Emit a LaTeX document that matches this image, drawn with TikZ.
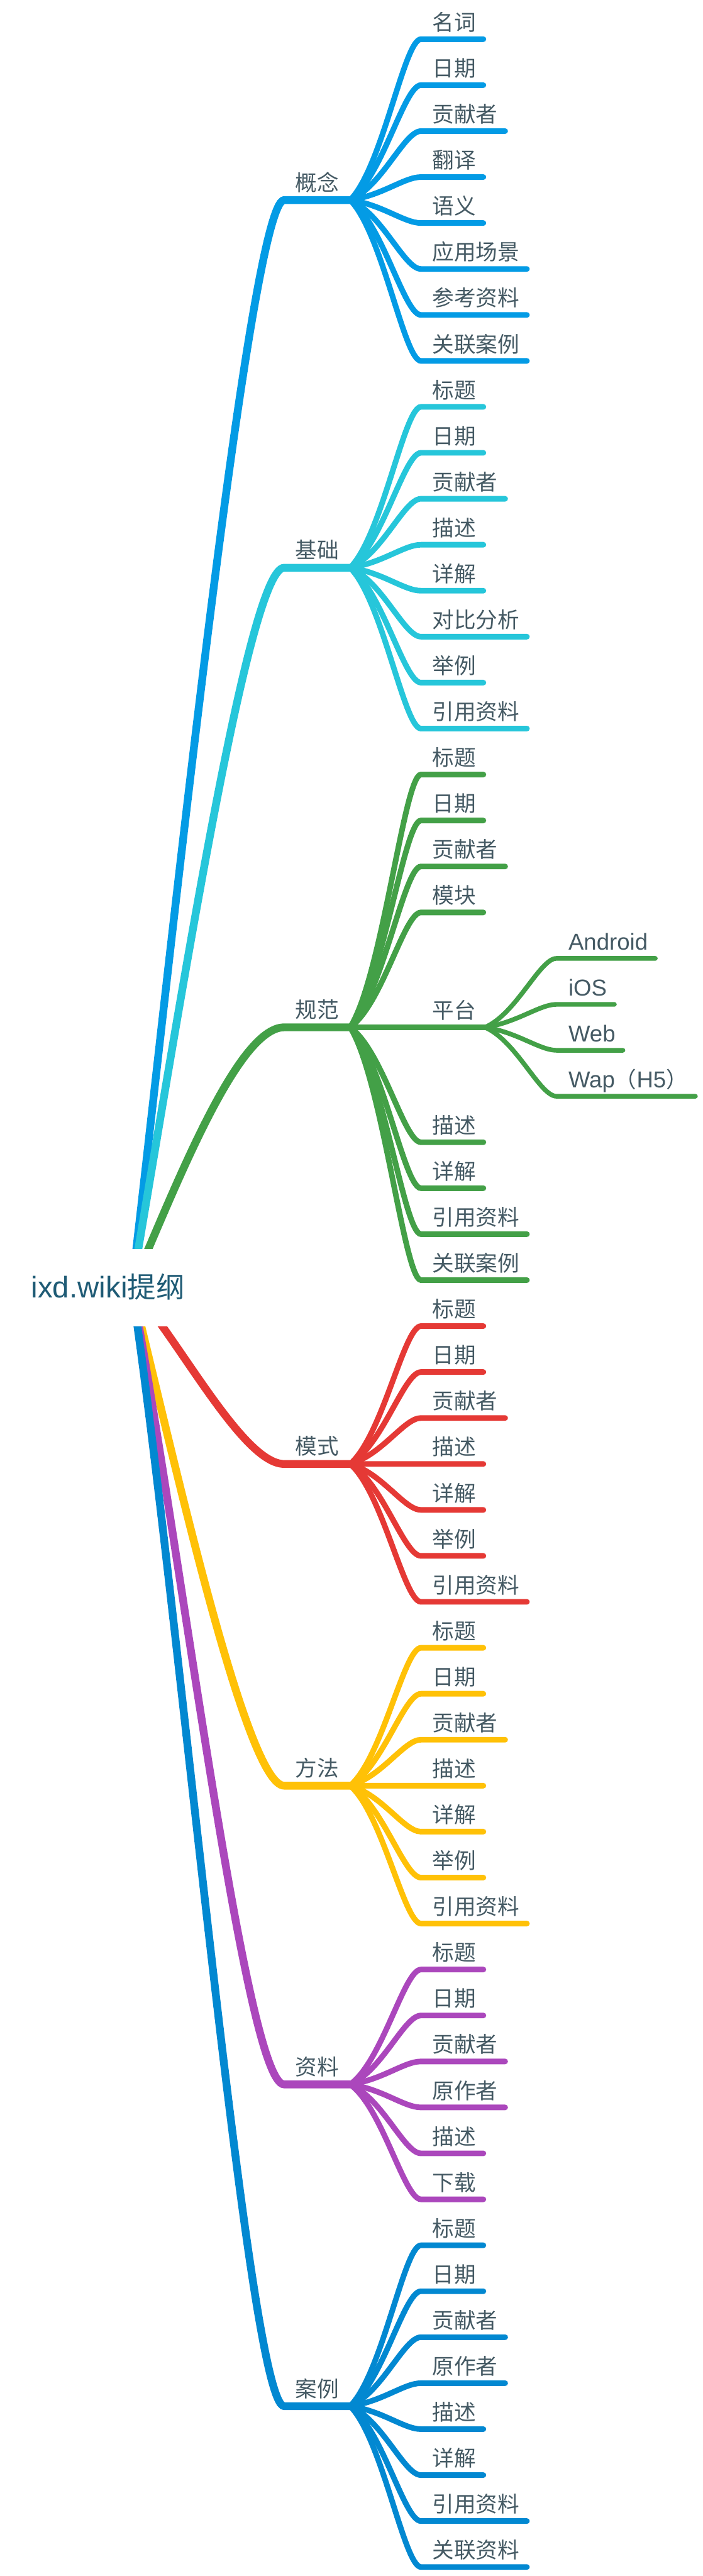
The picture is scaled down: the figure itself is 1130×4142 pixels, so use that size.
\documentclass[tikz,border=0pt]{standalone}
\usepackage{fontspec}
\setmainfont{Liberation Sans}
\newfontfamily\cjk{Noto Sans CJK SC}
\usetikzlibrary{calc}
\definecolor{cA}{HTML}{039BE5}
\definecolor{cB}{HTML}{26C6DA}
\definecolor{cC}{HTML}{43A047}
\definecolor{cD}{HTML}{E53935}
\definecolor{cE}{HTML}{FFC107}
\definecolor{cF}{HTML}{AB47BC}
\definecolor{cG}{HTML}{0288D1}
\definecolor{txt}{HTML}{455A64}
\definecolor{roottxt}{HTML}{1F5B75}
\tikzset{
  leaftext/.style={anchor=base west, inner sep=0pt, text=txt, font=\cjk\fontsize{35}{40}\selectfont},
  lattext/.style={anchor=base west, inner sep=0pt, text=txt, font=\fontsize{37}{42}\selectfont},
  branchtext/.style={anchor=base, inner sep=0pt, text=txt, font=\cjk\fontsize{35}{40}\selectfont},
  roottext/.style={anchor=base west, inner sep=0pt, text=roottxt},
  rootbox/.style={fill=white, draw=none, minimum width=310pt, minimum height=125pt, inner sep=0pt},
  mainline/.style={line width=12.5pt, line cap=round},
  leafline/.style={line width=9pt, line cap=round},
  platline/.style={line width=10pt, line cap=round},
  subline/.style={line width=7.5pt, line cap=round},
}
% leaf: #1 name, #2 parent coordinate, #3 row, #4 text, #5 colour
\newcommand\lf[5]{%
  \pgfmathsetmacro\yy{63+73.9*#3}%
  \node[leaftext] (#1) at (695,\yy-14) {#4};
  \coordinate (#1r) at ([xshift=12pt]#1.east);
  \draw[leafline,draw=#5] (#2) .. controls ($(#2)!0.2!(677,\yy)+(29,0)$) and (650,\yy) .. (677,\yy) -- (#1r |- 0,\yy);
}
% sub leaf of the platform node
\newcommand\slf[3]{%
  \pgfmathsetmacro\yy{63+73.9*#2}%
  \node[lattext] (#1) at (914,\yy-14) {#3};
  \coordinate (#1r) at ([xshift=12pt]#1.east);
  \draw[subline,draw=cC] (PF) .. controls ($(PF)!0.2!(895,\yy)+(28,0)$) and (868,\yy) .. (895,\yy) -- (#1r |- 0,\yy);
}
% main branch: #1 name, #2 row centre, #3 text, #4 colour, #5 P1x, #6 P1y, #7 P2x
\newcommand\br[7]{%
  \pgfmathsetmacro\yb{63+73.9*#2}%
  \coordinate (#1) at (563,\yb);
  \draw[mainline,draw=#4] (RC) .. controls (#5,#6) and (#7,\yb) .. (457,\yb) -- (#1);
  \node[branchtext] (#1t) at (510,\yb-15) {#3};
}
\begin{document}
\begin{tikzpicture}[x=1pt,y=-1pt]
\path[fill=white,use as bounding box] (0,0) rectangle (1130,4142);
\coordinate (RC) at (212,2070);

\br{B1}{3.5}{概念}{cA}{262}{1650}{400}
\br{B2}{11.5}{基础}{cB}{292}{1600}{400}
\br{B3}{21.5}{规范}{cC}{278}{1920}{380}
\br{B4}{31}{模式}{cD}{286}{2150}{390}
\br{B5}{38}{方法}{cE}{274}{2320}{395}
\br{B6}{44.5}{资料}{cF}{288}{2470}{395}
\br{B7}{51.5}{案例}{cG}{287}{2570}{400}

% 概念
\lf{A0}{B1}{0}{名词}{cA}
\lf{A1}{B1}{1}{日期}{cA}
\lf{A2}{B1}{2}{贡献者}{cA}
\lf{A3}{B1}{3}{翻译}{cA}
\lf{A4}{B1}{4}{语义}{cA}
\lf{A5}{B1}{5}{应用场景}{cA}
\lf{A6}{B1}{6}{参考资料}{cA}
\lf{A7}{B1}{7}{关联案例}{cA}
% 基础
\lf{C0}{B2}{8}{标题}{cB}
\lf{C1}{B2}{9}{日期}{cB}
\lf{C2}{B2}{10}{贡献者}{cB}
\lf{C3}{B2}{11}{描述}{cB}
\lf{C4}{B2}{12}{详解}{cB}
\lf{C5}{B2}{13}{对比分析}{cB}
\lf{C6}{B2}{14}{举例}{cB}
\lf{C7}{B2}{15}{引用资料}{cB}
% 规范
\lf{D0}{B3}{16}{标题}{cC}
\lf{D1}{B3}{17}{日期}{cC}
\lf{D2}{B3}{18}{贡献者}{cC}
\lf{D3}{B3}{19}{模块}{cC}
\pgfmathsetmacro\yp{63+73.9*21.5}
\node[leaftext] (PT) at (695,\yp-14) {平台};
\coordinate (PF) at (780,\yp);
\draw[platline,draw=cC] (B3) -- (PF);
\slf{P0}{20}{Android}
\slf{P1}{21}{iOS\hspace{12pt}}
\slf{P2}{22}{Web}
\slf{P3}{23}{Wap{\cjk\fontsize{35}{40}\selectfont （}H5{\cjk\fontsize{35}{40}\selectfont ）}}
\lf{D4}{B3}{24}{描述}{cC}
\lf{D5}{B3}{25}{详解}{cC}
\lf{D6}{B3}{26}{引用资料}{cC}
\lf{D7}{B3}{27}{关联案例}{cC}
% 模式
\lf{E0}{B4}{28}{标题}{cD}
\lf{E1}{B4}{29}{日期}{cD}
\lf{E2}{B4}{30}{贡献者}{cD}
\lf{E3}{B4}{31}{描述}{cD}
\lf{E4}{B4}{32}{详解}{cD}
\lf{E5}{B4}{33}{举例}{cD}
\lf{E6}{B4}{34}{引用资料}{cD}
% 方法
\lf{F0}{B5}{35}{标题}{cE}
\lf{F1}{B5}{36}{日期}{cE}
\lf{F2}{B5}{37}{贡献者}{cE}
\lf{F3}{B5}{38}{描述}{cE}
\lf{F4}{B5}{39}{详解}{cE}
\lf{F5}{B5}{40}{举例}{cE}
\lf{F6}{B5}{41}{引用资料}{cE}
% 资料
\lf{G0}{B6}{42}{标题}{cF}
\lf{G1}{B6}{43}{日期}{cF}
\lf{G2}{B6}{44}{贡献者}{cF}
\lf{G3}{B6}{45}{原作者}{cF}
\lf{G4}{B6}{46}{描述}{cF}
\lf{G5}{B6}{47}{下载}{cF}
% 案例
\lf{H0}{B7}{48}{标题}{cG}
\lf{H1}{B7}{49}{日期}{cG}
\lf{H2}{B7}{50}{贡献者}{cG}
\lf{H3}{B7}{51}{原作者}{cG}
\lf{H4}{B7}{52}{描述}{cG}
\lf{H5}{B7}{53}{详解}{cG}
\lf{H6}{B7}{54}{引用资料}{cG}
\lf{H7}{B7}{55}{关联资料}{cG}

% root
\node[rootbox] (rootbox) at (175,2070.5) {};
\node[roottext] (root) at (50,2087) {{\fontsize{48}{52}\selectfont ixd.wiki}{\cjk\fontsize{46}{52}\selectfont 提纲}};
\end{tikzpicture}
\end{document}
